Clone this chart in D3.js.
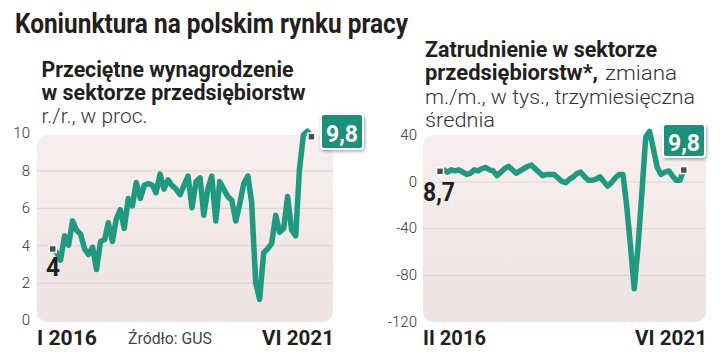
<!DOCTYPE html>
<html><head><meta charset="utf-8">
<script src="https://cdn.jsdelivr.net/npm/d3@7"></script>
<style>html,body{margin:0;padding:0;background:#fff}svg{display:block;font-family:Roboto,"Noto Sans",sans-serif}</style>
</head><body>
<script>
// ---- data ----
const title = "Koniunktura na polskim rynku pracy";
const wageStart = "2016-01", wageEnd = "2021-06";
const wageValues = [3.8,3.6,3.2,4.5,4.0,5.3,4.8,4.6,3.8,3.5,3.9,2.7,
  4.2,4.3,5.2,4.2,5.4,5.9,4.9,6.5,6.1,7.35,6.5,7.2,
  7.3,7.2,6.8,7.8,7.0,7.5,7.2,7.0,6.7,7.2,7.7,6.0,
  7.4,7.6,5.6,7.0,7.7,5.3,7.4,7.0,6.6,6.4,5.3,6.2,
  7.3,7.7,6.3,2.0,1.1,3.6,3.8,4.1,5.6,4.7,4.9,6.6,
  4.8,4.5,8.0,9.9,10.1,9.8];
const wageTicks = [0,2,4,6,8,10];
const wageGrid = [2,4,6,8];
const wageTitle = ["Przeciętne wynagrodzenie","w sektorze przedsiębiorstw"];
const wageUnit = "r./r., w proc.";
const wageXLabels = ["I 2016","VI 2021"];
const wageFirstLabel = "4", wageLastLabel = "9,8";
const source = "Źródło: GUS";

const empStart = "2016-02", empEnd = "2021-06";
const empValues = [8.7,10,8,10,9,10,8,6,7,10,9,11,
  12,10,9,5,8,11,13,10,7,9,11,13,
  14,11,8,5,6,6,6,3,0,-1,2,4,
  7,8,4,1,1,2,4,0,-4,-1,3,6,
  6,-20,-55,-92,-55,-10,38,43,28,12,6,8,
  9,5,1,1,9.8];
const empTicks = [40,0,-40,-80,-120];
const empGrid = [0,-40,-80];
const empTitleBold1 = "Zatrudnienie w sektorze";
const empTitleBold2 = "przedsiębiorstw*,";
const empTitleReg2 = " zmiana";
const empTitleReg3 = ["m./m., w tys., trzymiesięczna","średnia"];
const empXLabels = ["II 2016","VI 2021"];
const empFirstLabel = "8,7", empLastLabel = "9,8";

// ---- styles ----
const TEAL = "#1f9a80", BOX = "#1a9078", DARK = "#231f20", TXT = "#333";
const parse = d3.timeParse("%Y-%m");
const wageMonths = d3.timeMonth.range(parse(wageStart), d3.timeMonth.offset(parse(wageEnd),1));
const empMonths = d3.timeMonth.range(parse(empStart), d3.timeMonth.offset(parse(empEnd),1));

const svg = d3.select("body").append("svg").attr("width",720).attr("height",355);
svg.append("rect").attr("width",720).attr("height",355).attr("fill","#fff");
const defs = svg.append("defs");
const gr = defs.append("linearGradient").attr("id","bg").attr("x1",0).attr("y1",0).attr("x2",0).attr("y2",1);
gr.append("stop").attr("offset","0%").attr("stop-color","#f7efef");
gr.append("stop").attr("offset","100%").attr("stop-color","#eee2e2");
const sh = defs.append("filter").attr("id","sh").attr("x","-30%").attr("y","-30%").attr("width","160%").attr("height","160%");
sh.append("feDropShadow").attr("dx",1).attr("dy",1.5).attr("stdDeviation",1.5).attr("flood-color","#000").attr("flood-opacity",0.35);

function txt(g, s, x, y, o) {
  const t = g.append("text").attr("x",x).attr("y",y).text(s)
    .attr("font-size",o.size).attr("font-weight",o.weight||400)
    .attr("fill",o.fill||TXT).attr("text-anchor",o.anchor||"start");
  if (o.len) t.attr("textLength",o.len).attr("lengthAdjust","spacingAndGlyphs");
  return t;
}

// title
txt(svg, title, 15, 33, {size:28, weight:700, fill:DARK, len:393});

function panel(cfg) {
  const g = svg.append("g");
  const x = d3.scaleTime().domain(d3.extent(cfg.months)).range(cfg.xr);
  const y = d3.scaleLinear().domain(cfg.yd).range(cfg.yr);
  g.append("rect").attr("x",cfg.bg[0]).attr("y",cfg.bg[1]).attr("width",cfg.bg[2]-cfg.bg[0])
    .attr("height",cfg.bg[3]-cfg.bg[1]).attr("rx",10).attr("fill","url(#bg)");
  // grid
  g.append("g").attr("transform",`translate(${cfg.bg[0]},0)`)
    .call(d3.axisLeft(y).tickValues(cfg.grid).tickSize(-(cfg.bg[2]-cfg.bg[0])).tickFormat(""))
    .call(a=>a.select(".domain").remove())
    .call(a=>a.selectAll("line").attr("stroke","#e4d5d5").attr("stroke-width",1.2));
  // y axis labels
  g.append("g").attr("transform",`translate(${cfg.bg[0]},0)`)
    .call(d3.axisLeft(y).tickValues(cfg.ticks).tickSize(0).tickPadding(cfg.pad).tickFormat(d=>String(d)))
    .call(a=>a.select(".domain").remove())
    .call(a=>a.selectAll("text").attr("font-size",15).attr("font-weight",300).attr("fill","#333").attr("font-family","Roboto"));
  // line
  const data = cfg.values.map((v,i)=>({d:cfg.months[i], v}));
  g.append("path").datum(data).attr("fill","none").attr("stroke",TEAL).attr("stroke-width",5.5)
    .attr("stroke-linejoin","round").attr("stroke-linecap","round")
    .attr("d", d3.line().x(d=>x(d.d)).y(d=>y(d.v)));
  // end markers
  [data[0], data[data.length-1]].forEach(p=>{
    g.append("rect").attr("x",x(p.d)-3.5).attr("y",y(p.v)-3.5).attr("width",7).attr("height",7)
      .attr("fill","#4d4d4d").attr("stroke","#fff").attr("stroke-width",1.5);
  });
  // x labels
  txt(g, cfg.xl[0], cfg.bg[0], 345, {size:20, weight:700, fill:DARK, len:cfg.xlLen[0]});
  txt(g, cfg.xl[1], cfg.bg[2]+1, 345, {size:20, weight:700, fill:DARK, anchor:"end", len:cfg.xlLen[1]});
  return {g,x,y,data};
}

// left panel
const L = panel({months:wageMonths, values:wageValues, xr:[52.7,311.4], yd:[0,10], yr:[320,133],
  bg:[37,135,333,322], grid:wageGrid, ticks:wageTicks, pad:7, xl:wageXLabels, xlLen:[60,72]});
txt(svg, wageTitle[0], 41.5, 77, {size:22, weight:700, fill:DARK, len:252});
txt(svg, wageTitle[1], 41.5, 100, {size:22, weight:700, fill:DARK, len:264});
txt(svg, wageUnit, 41.5, 123, {size:21, weight:300, fill:TXT, len:106});
txt(svg, source, 128, 344, {size:16, weight:400, fill:"#444", len:84});
txt(svg, wageFirstLabel, 46, 276, {size:26, weight:700, fill:DARK, len:14});
// last value box left
L.g.append("rect").attr("x",321).attr("y",114).attr("width",42).attr("height",35).attr("rx",3)
  .attr("fill",BOX).attr("stroke","#fff").attr("stroke-width",2).attr("filter","url(#sh)");
txt(L.g, wageLastLabel, 342, 141.5, {size:23, weight:700, fill:"#fff", anchor:"middle", len:32});

// right panel
const R = panel({months:empMonths, values:empValues, xr:[440,683.8], yd:[-120,40], yr:[321.5,134.8],
  bg:[423,135,706,322], grid:empGrid, ticks:empTicks, pad:6, xl:empXLabels, xlLen:[63,72]});
txt(svg, empTitleBold1, 425, 57, {size:22, weight:700, fill:DARK, len:232});
txt(svg, empTitleBold2, 425, 80, {size:22, weight:700, fill:DARK, len:173});
txt(svg, empTitleReg2.trim(), 605, 80, {size:21, weight:300, fill:TXT, len:72});
txt(svg, empTitleReg3[0], 425, 104, {size:21, weight:300, fill:TXT, len:270});
txt(svg, empTitleReg3[1], 425, 127, {size:21, weight:300, fill:TXT, len:70});
txt(svg, empFirstLabel, 423, 201, {size:25, weight:700, fill:DARK, len:32});
R.g.append("rect").attr("x",663).attr("y",124).attr("width",42).attr("height",33).attr("rx",3)
  .attr("fill",BOX).attr("stroke","#fff").attr("stroke-width",2).attr("filter","url(#sh)");
txt(R.g, empLastLabel, 684, 150.5, {size:23, weight:700, fill:"#fff", anchor:"middle", len:32});
</script>
</body></html>
